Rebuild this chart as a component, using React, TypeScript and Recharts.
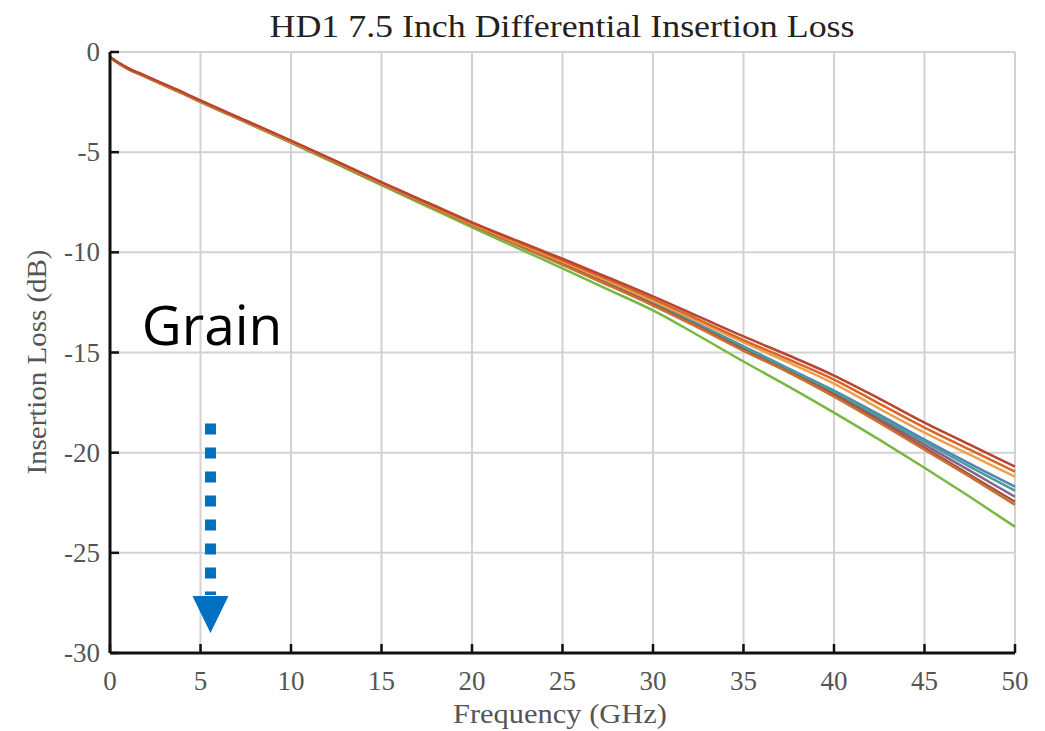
import React from "react";
import {
  LineChart,
  Line,
  CartesianGrid,
  XAxis,
  YAxis,
  ReferenceLine,
  ReferenceDot,
} from "recharts";

// frequency points (GHz)
const freq = [0, 0.5, 1, 2, 3, 4, 5, 7.5, 10, 12.5, 15, 17.5, 20, 22.5, 25, 27.5, 30, 32.5, 35, 37.5, 40, 42.5, 45, 47.5, 50];

// insertion loss per trace (dB)
const lossRed = [-0.25, -0.55, -0.8, -1.2, -1.6, -2.0, -2.42, -3.42, -4.42, -5.45, -6.5, -7.5, -8.5, -9.42, -10.32, -11.25, -12.2, -13.2, -14.2, -15.15, -16.15, -17.3, -18.5, -19.6, -20.7];
const lossOrange = [-0.25, -0.56, -0.82, -1.22, -1.62, -2.02, -2.44, -3.44, -4.44, -5.47, -6.52, -7.53, -8.53, -9.47, -10.4, -11.35, -12.32, -13.35, -14.38, -15.35, -16.35, -17.55, -18.75, -19.85, -20.95];
const lossLightOrange = [-0.26, -0.57, -0.83, -1.23, -1.63, -2.03, -2.45, -3.45, -4.46, -5.49, -6.54, -7.56, -8.57, -9.52, -10.46, -11.42, -12.42, -13.45, -14.5, -15.5, -16.55, -17.8, -19.0, -20.1, -21.2];
const lossBrown = [-0.26, -0.57, -0.84, -1.24, -1.65, -2.05, -2.47, -3.48, -4.48, -5.52, -6.58, -7.6, -8.62, -9.6, -10.58, -11.58, -12.6, -13.7, -14.85, -15.95, -17.1, -18.4, -19.75, -21.1, -22.45];
const lossTeal = [-0.26, -0.57, -0.83, -1.23, -1.64, -2.04, -2.46, -3.47, -4.47, -5.5, -6.56, -7.58, -8.6, -9.57, -10.55, -11.53, -12.55, -13.62, -14.75, -15.85, -16.95, -18.2, -19.45, -20.7, -21.9];
const lossBlue = [-0.26, -0.57, -0.83, -1.23, -1.64, -2.04, -2.46, -3.46, -4.47, -5.5, -6.55, -7.57, -8.58, -9.55, -10.52, -11.5, -12.5, -13.58, -14.7, -15.8, -16.9, -18.1, -19.35, -20.55, -21.7];
const lossPurple = [-0.26, -0.57, -0.84, -1.24, -1.65, -2.05, -2.47, -3.47, -4.48, -5.51, -6.57, -7.59, -8.61, -9.58, -10.57, -11.56, -12.58, -13.66, -14.8, -15.9, -17.05, -18.3, -19.6, -20.9, -22.2];
const lossOrange2 = [-0.26, -0.58, -0.85, -1.25, -1.66, -2.06, -2.48, -3.49, -4.5, -5.54, -6.6, -7.62, -8.65, -9.64, -10.63, -11.63, -12.66, -13.76, -14.92, -16.0, -17.2, -18.5, -19.85, -21.2, -22.6];
const lossGreen = [-0.26, -0.58, -0.85, -1.26, -1.67, -2.07, -2.5, -3.51, -4.53, -5.58, -6.65, -7.7, -8.75, -9.78, -10.8, -11.85, -12.9, -14.15, -15.45, -16.7, -18.0, -19.35, -20.75, -22.2, -23.7];

const xTicks = [0, 5, 10, 15, 20, 25, 30, 35, 40, 45, 50];
const yTicks = [0, -5, -10, -15, -20, -25, -30];

const SERIF = "'Liberation Serif', 'DejaVu Serif', serif";
const AXIS_TEXT = "#555";

// bottom-to-top drawing order
const traces = [
  { key: "green", values: lossGreen, color: "#77B843" },
  { key: "blue", values: lossBlue, color: "#5B7FB8" },
  { key: "purple", values: lossPurple, color: "#8B5E8E" },
  { key: "teal", values: lossTeal, color: "#3FA39A" },
  { key: "brown", values: lossBrown, color: "#A4553A" },
  { key: "orange2", values: lossOrange2, color: "#C8703A" },
  { key: "lightOrange", values: lossLightOrange, color: "#EFA04A" },
  { key: "orange", values: lossOrange, color: "#D9652B" },
  { key: "red", values: lossRed, color: "#B8452F" },
];

const rows = freq.map((f, i) => {
  const row: Record<string, number> = { f };
  traces.forEach((t) => {
    row[t.key] = t.values[i];
  });
  return row;
});

// MATLAB style inward ticks
const BottomTick = (props: any) => {
  const { x, y, payload } = props;
  return (
    <g>
      <line x1={x} y1={y} x2={x} y2={y - 9} stroke="#111" strokeWidth={2.5} />
      <text x={x} y={y + 37} textAnchor="middle" fontFamily={SERIF} fontSize={27} fill={AXIS_TEXT}>
        {payload.value}
      </text>
    </g>
  );
};

const TopTick = (props: any) => {
  const { x, y } = props;
  return <line x1={x} y1={y} x2={x} y2={y + 9} stroke="#111" strokeWidth={2.5} />;
};

const LeftTick = (props: any) => {
  const { x, y, payload } = props;
  return (
    <g>
      <line x1={x} y1={y} x2={x + 9} y2={y} stroke="#111" strokeWidth={2.5} />
      <text x={x - 10} y={y + 9} textAnchor="end" fontFamily={SERIF} fontSize={27} fill={AXIS_TEXT}>
        {payload.value}
      </text>
    </g>
  );
};

const RightTick = (props: any) => {
  const { x, y } = props;
  return <line x1={x} y1={y} x2={x - 9} y2={y} stroke="#111" strokeWidth={2.5} />;
};

const ArrowHead = (props: any) => {
  const { cx, cy } = props;
  return (
    <polygon
      points={`${cx - 18},${cy - 18} ${cx + 18},${cy - 18} ${cx},${cy + 19}`}
      fill="#0070C0"
    />
  );
};

export default function App() {
  return (
    <div style={{ position: "absolute", left: 0, top: 0, background: "#fff" }}>
      <LineChart
        width={1045}
        height={731}
        data={rows}
        margin={{ top: 52, right: 30, bottom: 0, left: 0 }}
      >
        <CartesianGrid stroke="#d2d2d2" strokeWidth={2} />

        <XAxis
          dataKey="f"
          type="number"
          domain={[0, 50]}
          ticks={xTicks}
          interval={0}
          height={78}
          tickSize={0}
          tickMargin={0}
          tickLine={false}
          tick={(p: any) => <BottomTick {...p} />}
          axisLine={{ stroke: "#111", strokeWidth: 3 }}
        />
        <XAxis
          xAxisId="top"
          orientation="top"
          dataKey="f"
          type="number"
          domain={[0, 50]}
          ticks={xTicks}
          interval={0}
          height={0}
          tickSize={0}
          tickMargin={0}
          tickLine={false}
          tick={(p: any) => <TopTick {...p} />}
          axisLine={{ stroke: "#111", strokeWidth: 3 }}
        />
        <YAxis
          type="number"
          domain={[-30, 0]}
          ticks={yTicks}
          interval={0}
          width={110}
          tickSize={0}
          tickMargin={0}
          tickLine={false}
          tick={(p: any) => <LeftTick {...p} />}
          axisLine={{ stroke: "#111", strokeWidth: 3 }}
        />
        <YAxis
          yAxisId="right"
          orientation="right"
          type="number"
          domain={[-30, 0]}
          ticks={yTicks}
          interval={0}
          width={0}
          tickSize={0}
          tickMargin={0}
          tickLine={false}
          tick={(p: any) => <RightTick {...p} />}
          axisLine={{ stroke: "#111", strokeWidth: 3 }}
        />

        {traces.map((t) => (
          <Line
            key={t.key}
            type="monotone"
            dataKey={t.key}
            stroke={t.color}
            strokeWidth={2.5}
            dot={false}
            isAnimationActive={false}
          />
        ))}

        {/* Grain arrow annotation */}
        <ReferenceLine
          segment={[
            { x: 5.55, y: -18.55 },
            { x: 5.55, y: -27.1 },
          ]}
          stroke="#0070C0"
          strokeWidth={11}
          strokeDasharray="11 13"
        />
        <ReferenceDot x={5.55} y={-28.05} shape={(p: any) => <ArrowHead {...p} />} />

        <text x={212} y={345} textAnchor="middle" fontFamily="'Open Sans', 'Noto Sans', sans-serif" fontSize={55} fill="#000">
          Grain
        </text>

        <text
          x={562}
          y={37}
          textAnchor="middle"
          fontFamily={SERIF}
          fontSize={32}
          fill="#222"
          textLength={585}
          lengthAdjust="spacingAndGlyphs"
        >
          HD1 7.5 Inch Differential Insertion Loss
        </text>
        <text
          x={560}
          y={723}
          textAnchor="middle"
          fontFamily={SERIF}
          fontSize={28}
          fill={AXIS_TEXT}
          textLength={214}
          lengthAdjust="spacingAndGlyphs"
        >
          Frequency (GHz)
        </text>
        <text
          x={46}
          y={362}
          textAnchor="middle"
          fontFamily={SERIF}
          fontSize={28}
          fill={AXIS_TEXT}
          textLength={225}
          lengthAdjust="spacingAndGlyphs"
          transform="rotate(-90 46 362)"
        >
          Insertion Loss (dB)
        </text>
      </LineChart>
    </div>
  );
}
